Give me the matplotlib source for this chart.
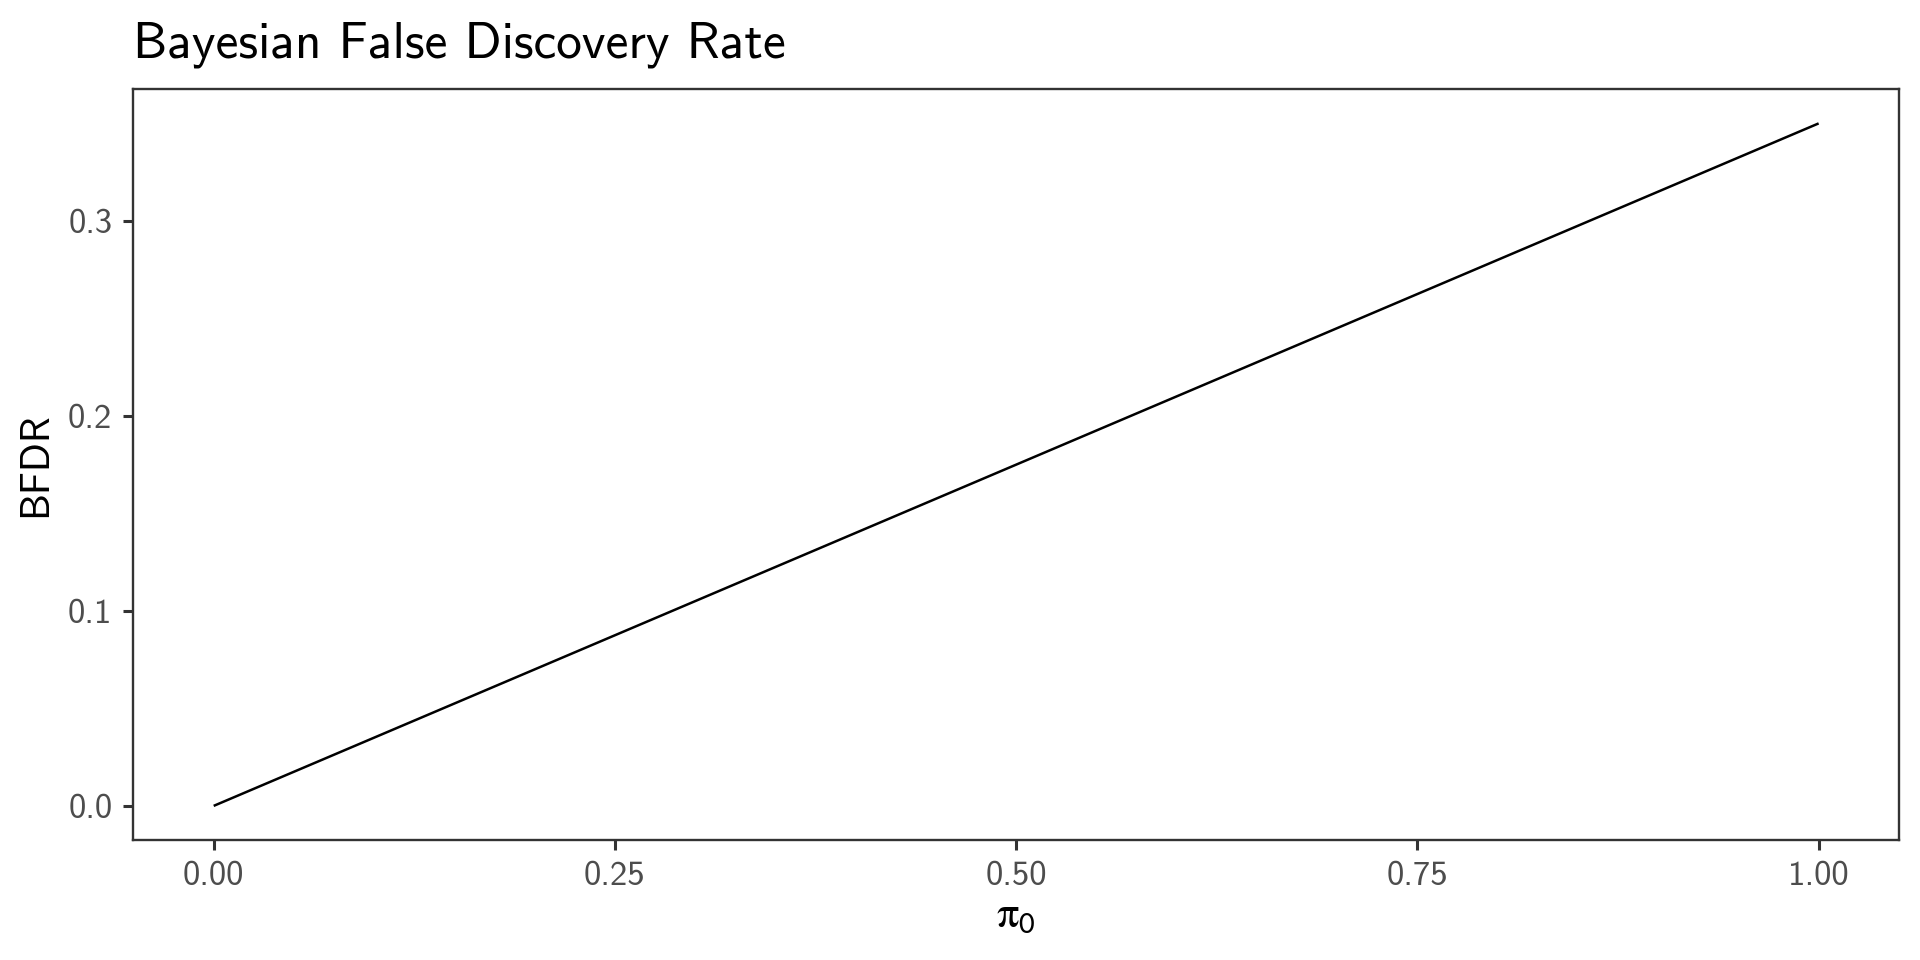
import matplotlib
matplotlib.use('Agg')
import matplotlib.pyplot as plt

# values
pi0 = [0.0, 0.25, 0.50, 0.75, 1.0]
bfdr = [0.0, 0.0875, 0.175, 0.2625, 0.35]

xticks = [0.0, 0.25, 0.50, 0.75, 1.0]
xtick_labels = ['0.00', '0.25', '0.50', '0.75', '1.00']
yticks = [0.0, 0.1, 0.2, 0.3]
ytick_labels = ['0.0', '0.1', '0.2', '0.3']

plt.rcParams['font.family'] = ['cmss10', 'DejaVu Sans']
plt.rcParams['mathtext.fontset'] = 'stix'
plt.rcParams['axes.formatter.use_mathtext'] = True

fig = plt.figure(figsize=(9.6, 4.8), dpi=200)
ax = fig.add_axes([0.0695, 0.125, 0.9195, 0.782])

ax.plot(pi0, bfdr, color='black', lw=0.9, solid_capstyle='butt')

ax.set_xlim(-0.05, 1.05)
ax.set_ylim(-0.0175, 0.3675)
ax.set_xticks(xticks, xtick_labels)
ax.set_yticks(yticks, ytick_labels)

for s in ax.spines.values():
	s.set_color('#333333')
	s.set_linewidth(0.85)

ax.tick_params(axis='both', length=3.6, width=1.1, color='#333333',
	labelcolor='#4D4D4D', labelsize=12.5, pad=4)

ax.set_xlabel(r'$\mathrm{\pi}_\mathsf{0}$', fontsize=16, color='black', labelpad=1)
ax.set_ylabel('BFDR', fontsize=14.5, color='black', labelpad=5)
ax.set_title('Bayesian False Discovery Rate', loc='left', fontsize=18.5,
	color='black', pad=11.5)

fig.savefig('out.png', dpi=200)
